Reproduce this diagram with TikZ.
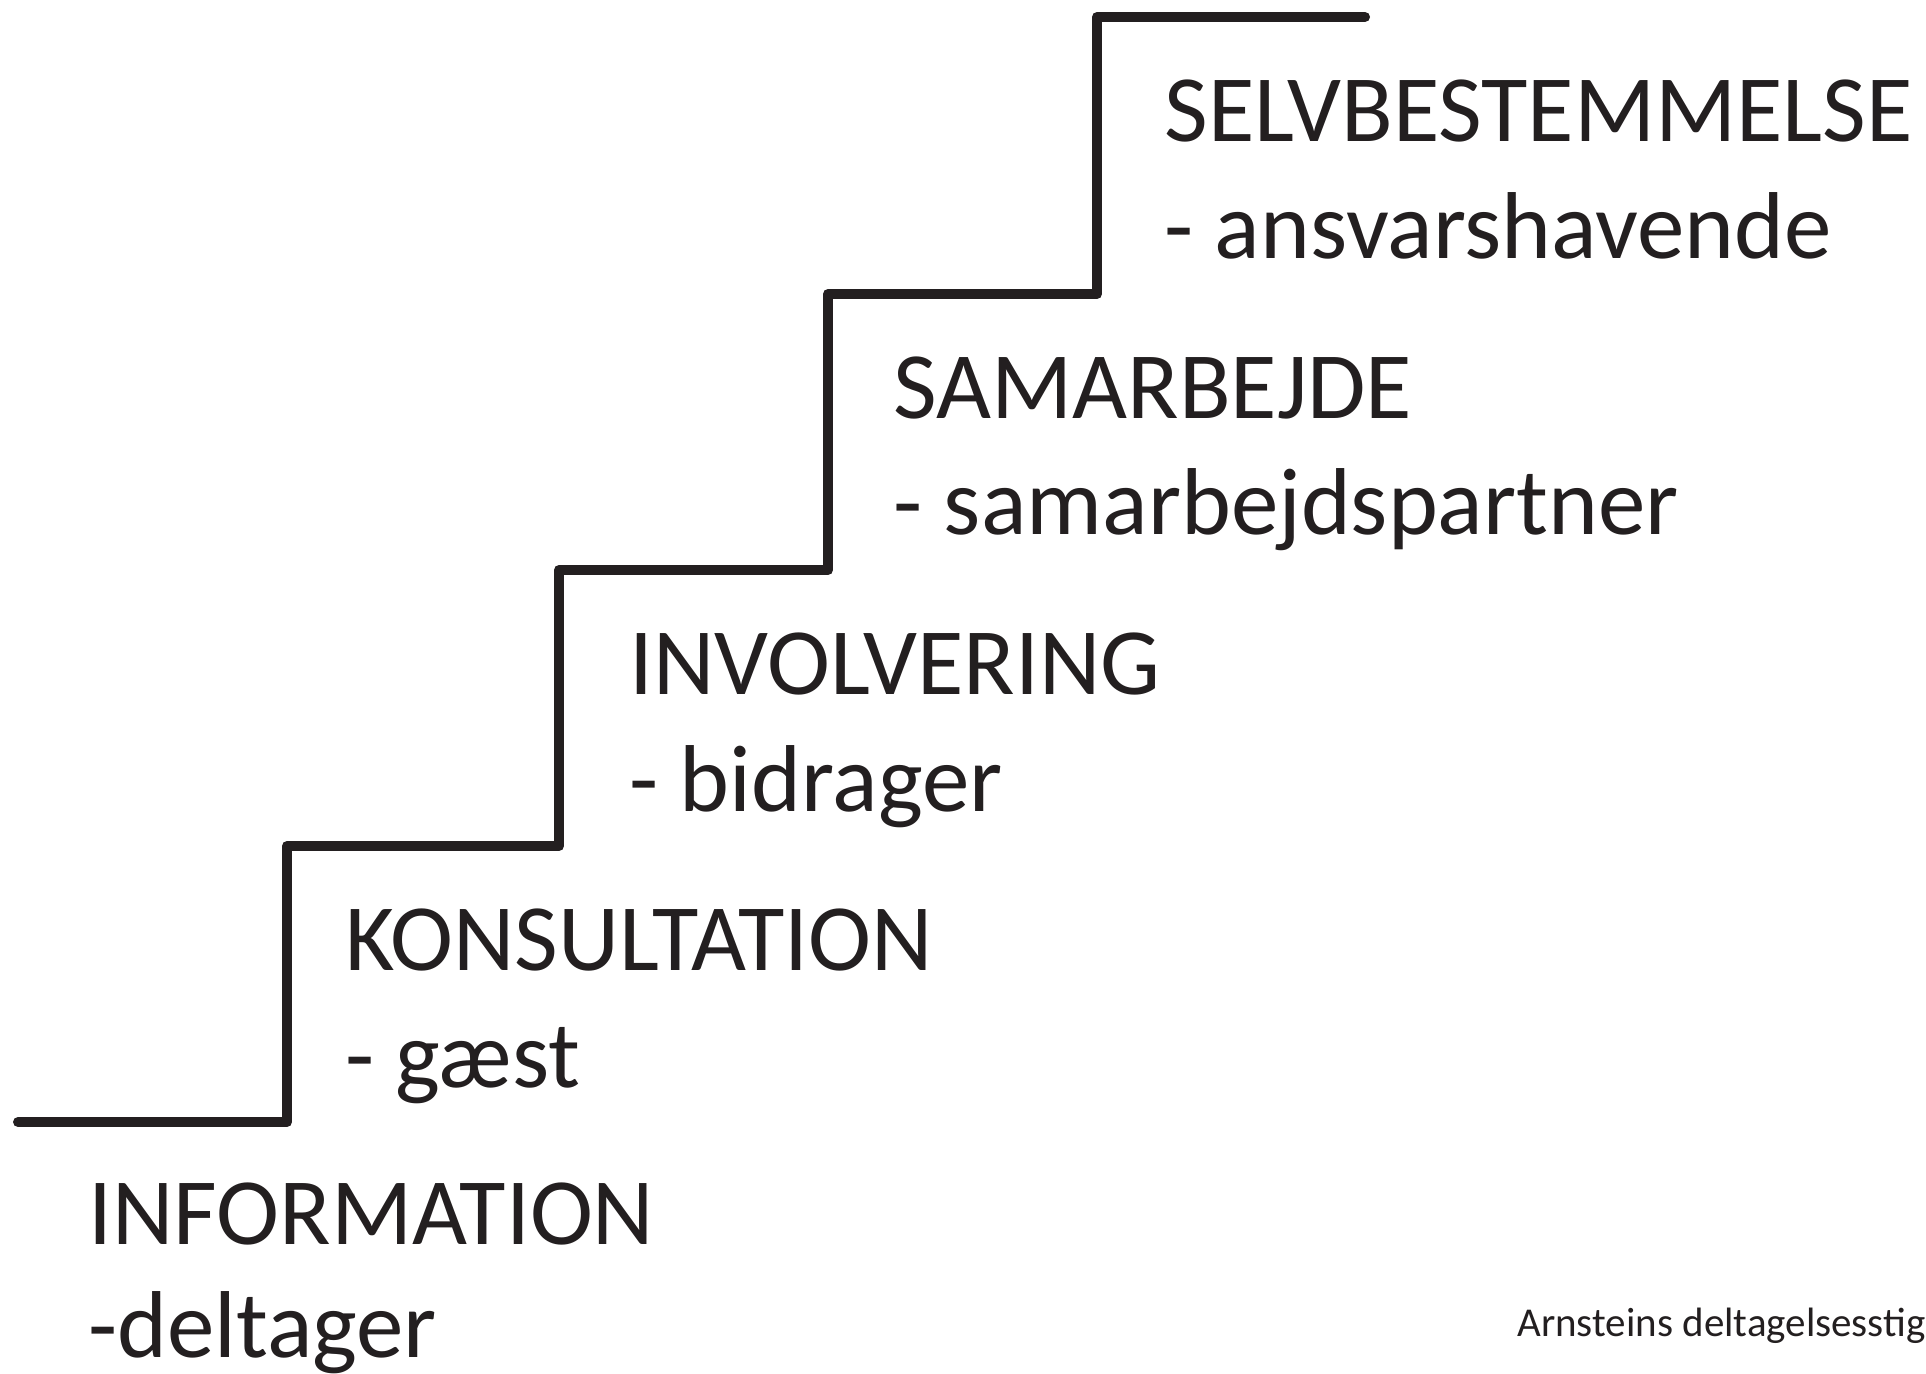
\documentclass[tikz,border=0pt]{standalone}
\usepackage{fontspec}
\setmainfont{Carlito}
\definecolor{ink}{HTML}{231F20}
\begin{document}
\begin{tikzpicture}[x=0.5pt,y=-0.5pt,
  stair/.style={draw=ink,line width=5pt,line cap=round,line join=round},
  lvl/.style={anchor=base west,inner sep=0pt,text=ink,font=\fontsize{47.5}{57}\selectfont},
  foot/.style={anchor=base west,inner sep=0pt,text=ink,font=\fontsize{20.5}{25}\selectfont}]
\useasboundingbox (0,0) rectangle (1926,1373);
\draw[stair] (18,1122) -- (287,1122) -- (287,846) -- (559,846) -- (559,570)
  -- (828,570) -- (828,294) -- (1097,294) -- (1097,17) -- (1365,17);
\node[lvl] (t5) at (1164,141) {SELVBESTEMMELSE};
\node[lvl] (s5) at (1164,258) {- ansvarshavende};
\node[lvl] (t4) at (893,418) {SAMARBEJDE};
\node[lvl] (s4) at (893,534) {- samarbejdspartner};
\node[lvl] (t3) at (629,694) {INVOLVERING};
\node[lvl] (s3) at (629,811) {- bidrager};
\node[lvl] (t2) at (345,970) {KONSULTATION};
\node[lvl] (s2) at (345,1087) {- gæst};
\node[lvl] (t1) at (88,1244) {INFORMATION};
\node[lvl] (s1) at (88,1357) {-deltager};
\node[foot] (ft) at (1517,1336) {Arnsteins deltagelsesstige};
\end{tikzpicture}
\end{document}
